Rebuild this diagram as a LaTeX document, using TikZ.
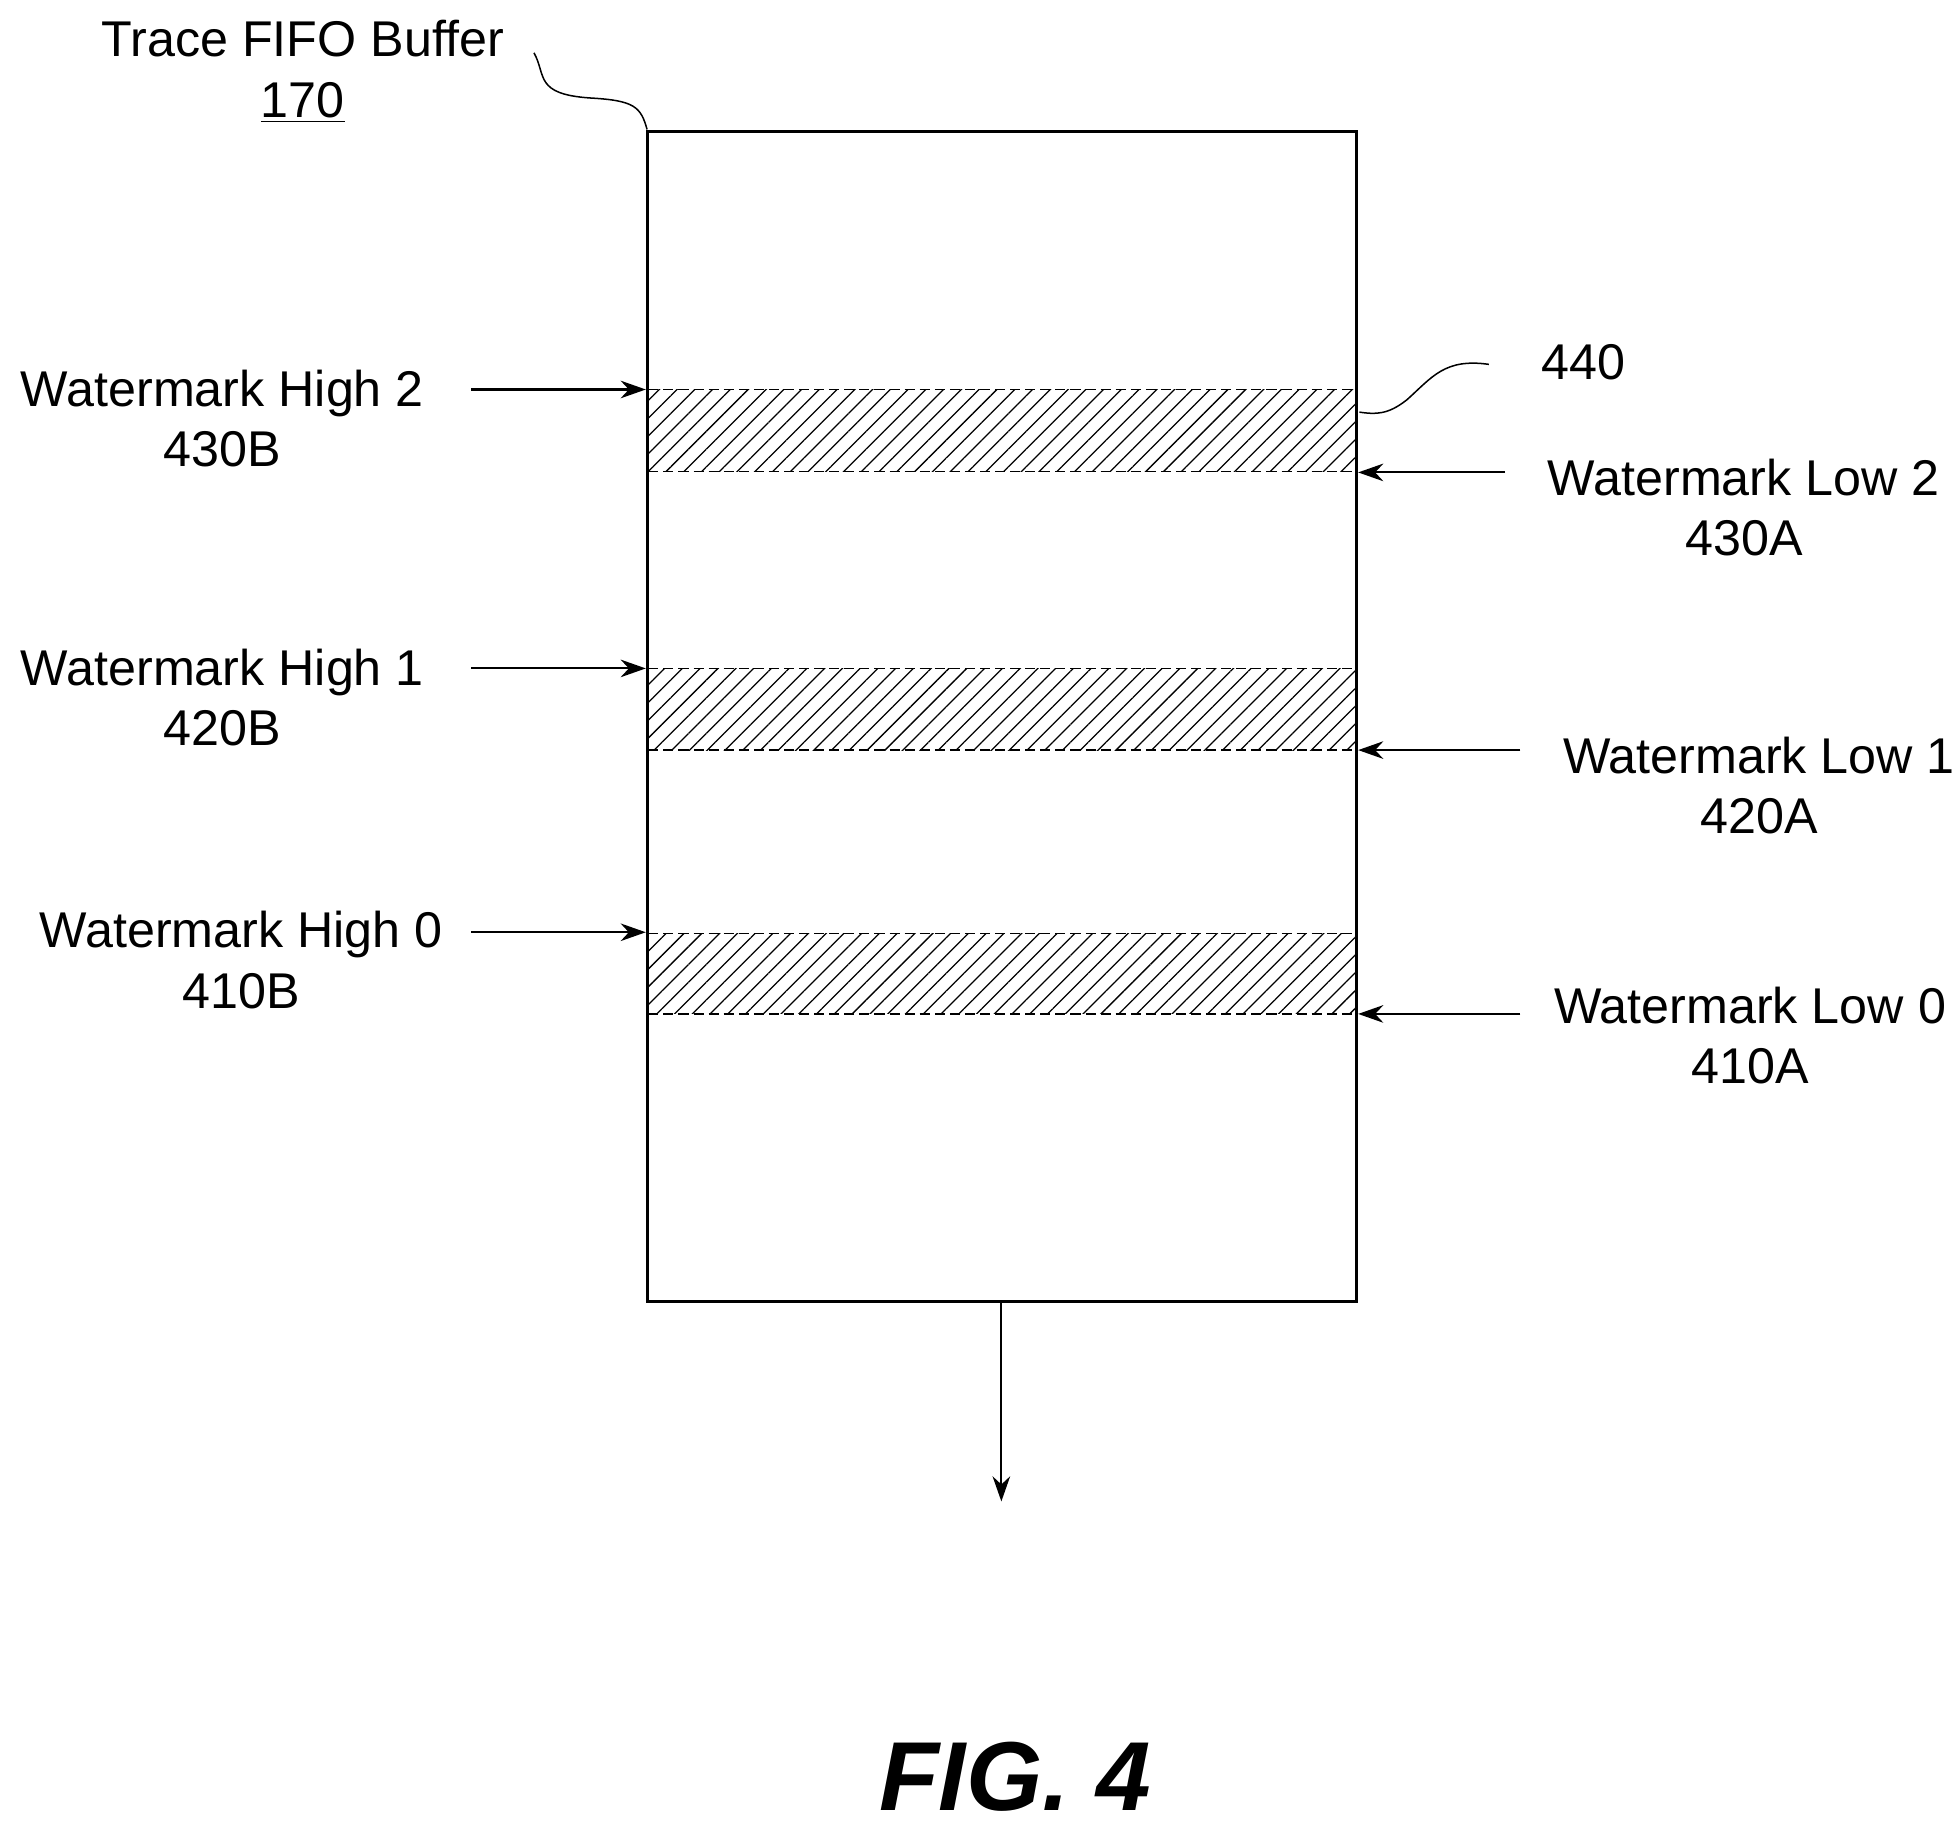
\documentclass[tikz,border=0pt]{standalone}
\usepackage{fontspec}
\setmainfont{Liberation Sans}
\usetikzlibrary{patterns.meta,arrows.meta}
\begin{document}
\begin{tikzpicture}[x=0.5pt,y=-0.5pt,
  lbl/.style={font=\fontsize{20}{24}\selectfont,align=center,inner sep=0},
  arr/.style={-{Stealth[length=10pt,width=7pt]},line width=0.8pt},
  band/.style={pattern={Lines[angle=45,distance=5pt,line width=0.5pt]}},
  edge/.style={dash pattern=on 4pt off 2pt,line width=0.5pt}]
\useasboundingbox (0,0) rectangle (1560,1457);
\node[draw,line width=1.2pt,minimum width=282.5pt,minimum height=465.5pt,inner sep=0] (box) at (797.5,570.5) {};
\foreach \t/\b/\n in {310/375/c,532/597/b,743/807/a}{
  \fill[band] (516,\t) rectangle (1079,\b);
  \draw[edge] (516,\t) -- (1079,\t);
  \draw[edge] (516,\b) -- (1079,\b);
}
\node[lbl] (h2) at (177,333) {Watermark High 2\\430B};
\node[lbl] (h1) at (177,555) {Watermark High 1\\420B};
\node[lbl] (h0) at (192,764) {Watermark High 0\\410B};
\node[lbl] (l2) at (1388,404) {Watermark Low 2\\430A};
\node[lbl] (l1) at (1400,625) {Watermark Low 1\\420A};
\node[lbl] (l0) at (1393,824) {Watermark Low 0\\410A};
\node[lbl] (n440) at (1260,288) {440};
\node[lbl] (title) at (241,57) {Trace FIFO Buffer\\\underline{170}};
\node[font=\fontsize{39}{46}\selectfont\bfseries\itshape,inner sep=0] (fig) at (808,1414) {FIG. 4};
\coordinate (a2s) at (375,310); \coordinate (a2e) at (514,310);
\coordinate (a1s) at (375,532); \coordinate (a1e) at (514,532);
\coordinate (a0s) at (375,742); \coordinate (a0e) at (514,742);
\coordinate (b2s) at (1198,376); \coordinate (b2e) at (1081,376);
\coordinate (b1s) at (1210,597); \coordinate (b1e) at (1081,597);
\coordinate (b0s) at (1210,807); \coordinate (b0e) at (1081,807);
\foreach \s/\e in {a2s/a2e,a1s/a1e,a0s/a0e,b2s/b2e,b1s/b1e,b0s/b0e}
  \draw[arr] (\s) -- (\e);
\coordinate (outs) at (797,1036); \coordinate (oute) at (797,1195);
\draw[arr] (outs) -- (oute);
\coordinate (t1) at (425,42); \coordinate (t2) at (515,103);
\draw[line width=0.6pt] (t1) .. controls (435,60) and (425,75) .. (470,78) .. controls (505,80) and (510,85) .. (t2);
\coordinate (q1) at (1185,290); \coordinate (q2) at (1082,328);
\draw[line width=0.6pt] (q1) .. controls (1150,285) and (1140,300) .. (1120,318) .. controls (1105,330) and (1095,330) .. (q2);
\end{tikzpicture}
\end{document}
